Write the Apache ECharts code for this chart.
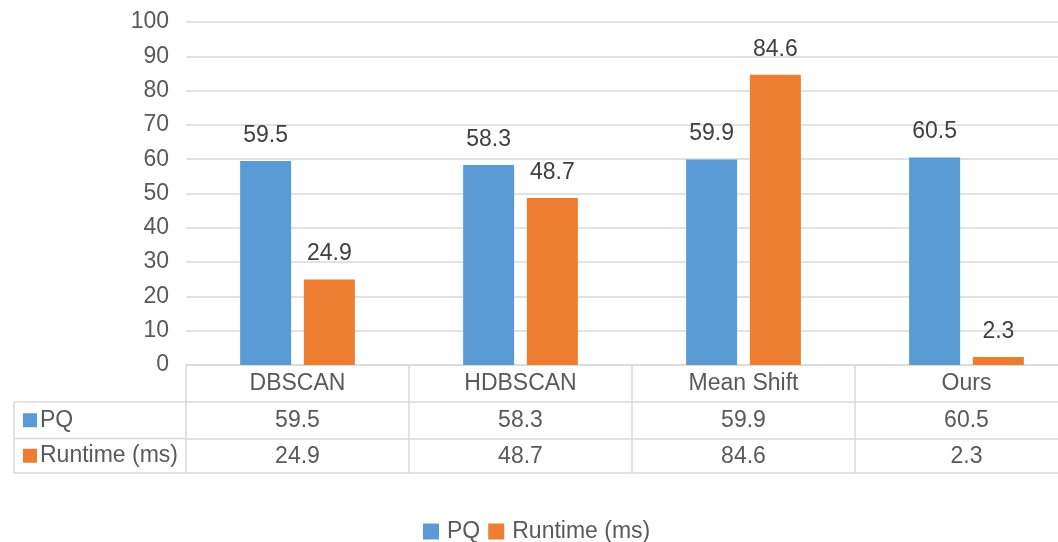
<!DOCTYPE html>
<html>
<head>
<meta charset="utf-8">
<script src="https://cdn.jsdelivr.net/npm/echarts@6/dist/echarts.min.js"></script>
<style>
html,body{margin:0;padding:0;background:#fff;}
#chart{width:1058px;height:542px;}
</style>
</head>
<body>
<div id="chart"></div>
<script>
// ---- data ----
var categories = ['DBSCAN', 'HDBSCAN', 'Mean Shift', 'Ours'];
var seriesNames = ['PQ', 'Runtime (ms)'];
var pqValues = [59.5, 58.3, 59.9, 60.5];
var runtimeValues = [24.9, 48.7, 84.6, 2.3];
var yTicks = [0, 10, 20, 30, 40, 50, 60, 70, 80, 90, 100];

var colors = ['#5B9BD5', '#ED7D31'];
var FONT = '"Liberation Sans", Arial, Helvetica, sans-serif';
var FS = 23;
var GRID = '#d9d9d9';
var TXT = '#595959';

var chart = echarts.init(document.getElementById('chart'));

function fmt(v){ return v.toFixed(1); }

var tableX0 = 14, tableX1 = 186;
var rowLines = [402, 438.5, 473];

var graphics = [];
graphics.push({type:'line', shape:{x1:tableX0, y1:rowLines[0], x2:tableX0, y2:rowLines[2]}, style:{stroke:GRID, lineWidth:1.5}});
rowLines.forEach(function(y){
  graphics.push({type:'line', shape:{x1:tableX0, y1:y, x2:tableX1, y2:y}, style:{stroke:GRID, lineWidth:1.5}});
});
seriesNames.forEach(function(name, i){
  var cy = (rowLines[i] + rowLines[i+1]) / 2;
  graphics.push({type:'rect', shape:{x:23, y:cy-7, width:14, height:14}, style:{fill:colors[i]}});
  graphics.push({type:'text', x:40, y:cy, style:{text:name, fill:TXT, font: FS + 'px ' + FONT, textVerticalAlign:'middle', textAlign:'left'}});
});

var labelStyle = {color: TXT, fontSize: FS, fontFamily: FONT, margin: 7, interval: 0};

var option = {
  backgroundColor: '#fff',
  animation: false,
  color: colors,
  textStyle: {fontFamily: FONT},
  grid: {left: 186, top: 22, width: 892, height: 343, containLabel: false, outerBoundsMode: 'none'},
  legend: {
    data: seriesNames,
    left: 418, top: 515,
    itemWidth: 16, itemHeight: 16, itemGap: 8,
    icon: 'rect',
    textStyle: {color: TXT, fontSize: FS, fontFamily: FONT, padding: [0,0,0,3]}
  },
  yAxis: {
    type: 'value', min: 0, max: 100, interval: 10,
    axisLine: {show: false}, axisTick: {show: false},
    axisLabel: {color: TXT, fontSize: FS, fontFamily: FONT, margin: 17,
      formatter: function(v){ return yTicks.indexOf(v) >= 0 ? String(v) : ''; }},
    splitLine: {lineStyle: {color: GRID, width: 1.5}}
  },
  xAxis: [
    {
      type: 'category', data: categories, position: 'bottom',
      axisLine: {lineStyle: {color: GRID, width: 1.5}},
      axisTick: {show: true, length: 108, lineStyle: {color: GRID, width: 1.5}},
      axisLabel: labelStyle
    },
    {
      type: 'category', data: pqValues.map(fmt), position: 'bottom', offset: 37,
      axisLine: {lineStyle: {color: GRID, width: 1.5}},
      axisTick: {show: false},
      axisLabel: labelStyle
    },
    {
      type: 'category', data: runtimeValues.map(fmt), position: 'bottom', offset: 73.5,
      axisLine: {lineStyle: {color: GRID, width: 1.5}},
      axisTick: {show: false},
      axisLabel: labelStyle
    },
    {
      type: 'category', data: categories, position: 'bottom', offset: 108,
      axisLine: {lineStyle: {color: GRID, width: 1.5}},
      axisTick: {show: false},
      axisLabel: {show: false}
    }
  ],
  series: [
    {
      name: seriesNames[0], type: 'bar', data: pqValues, xAxisIndex: 0,
      barWidth: 51, barGap: '25%',
      label: {show: true, position: 'top', distance: 14, color: '#404040', fontSize: FS, fontFamily: FONT, formatter: function(p){ return fmt(p.value); }}
    },
    {
      name: seriesNames[1], type: 'bar', data: runtimeValues, xAxisIndex: 0,
      barWidth: 51, barGap: '25%',
      label: {show: true, position: 'top', distance: 14, color: '#404040', fontSize: FS, fontFamily: FONT, formatter: function(p){ return fmt(p.value); }}
    }
  ],
  graphic: graphics
};
chart.setOption(option);
</script>
</body>
</html>
